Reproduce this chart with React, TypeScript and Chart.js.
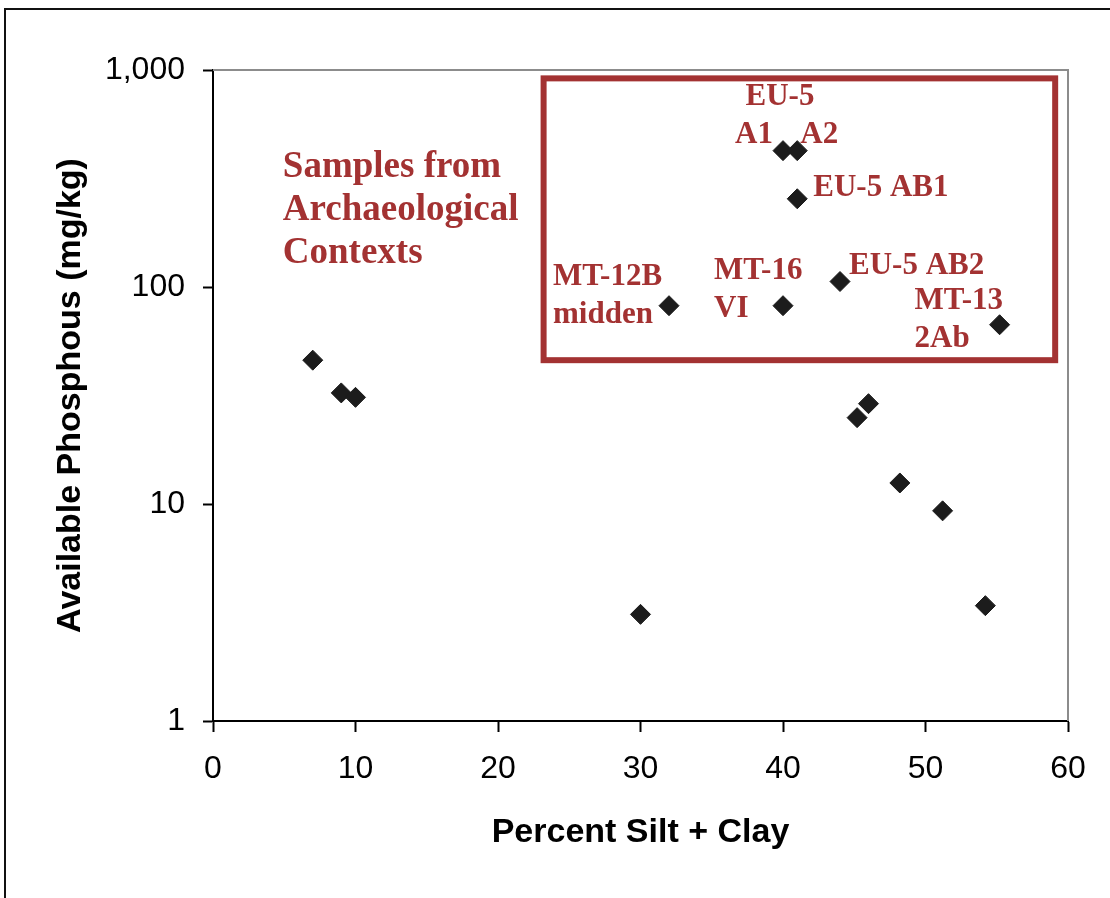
import React, { useEffect, useRef } from 'react';
import { Chart, registerables } from 'chart.js';

Chart.register(...registerables);

// ---- data ----
const siltClay = [7, 9, 10, 30, 32, 40, 41, 41, 40, 44, 55.2, 45.2, 46, 48.2, 51.2, 54.2];
const phosphorus = [46, 32.5, 31, 3.1, 82, 425, 425, 255, 82, 106, 67, 25, 29, 12.5, 9.3, 3.4];
const xTickValues = [0, 10, 20, 30, 40, 50, 60];
const yTickValues = [1, 10, 100, 1000];
const yTickLabels = ['1', '10', '100', '1,000'];
const xTitle = 'Percent Silt + Clay';
const yTitle = 'Available Phosphous (mg/kg)';
const contextText = ['Samples from', 'Archaeological', 'Contexts'];

// annotation placement (kept separate from the data)
const pointLabels = [
  { point: 5, lines: ['EU-5'], dx: -3, dy: -46, align: 'center' },
  { point: 5, lines: ['A1'], dx: -10, dy: -8, align: 'right' },
  { point: 6, lines: ['A2'], dx: 3, dy: -8, align: 'left' },
  { point: 7, lines: ['EU-5 AB1'], dx: 16, dy: -3, align: 'left' },
  { point: 4, lines: ['MT-12B', 'midden'], dx: -116, dy: -21, align: 'left' },
  { point: 8, lines: ['MT-16', 'VI'], dx: -69, dy: -27, align: 'left' },
  { point: 9, lines: ['EU-5 AB2'], dx: 9, dy: -8, align: 'left' },
  { point: 10, lines: ['MT-13', '2Ab'], dx: -85, dy: -16, align: 'left' },
];
const boxRange = { x0: 23.2, x1: 59.1, y0: 46, y1: 915 };
const contextAnchor = { x: 4.9, y: 321 };

const RED = '#a33232';
const TICK_FONT = "'Liberation Sans', Arial, sans-serif";

const annotationPlugin = {
  id: 'annotations',
  beforeDraw(chart: any) {
    const ctx = chart.ctx;
    ctx.save();
    ctx.fillStyle = '#ffffff';
    ctx.fillRect(0, 0, chart.width, chart.height);
    ctx.restore();
  },
  beforeDatasetsDraw(chart: any) {
    const { ctx, chartArea, scales } = chart;
    const xs = scales.x;
    const ys = scales.y;
    ctx.save();
    // plot-area border (top and right, grey)
    ctx.strokeStyle = '#8c8c8c';
    ctx.lineWidth = 2;
    ctx.beginPath();
    ctx.moveTo(chartArea.left, chartArea.top);
    ctx.lineTo(chartArea.right, chartArea.top);
    ctx.lineTo(chartArea.right, chartArea.bottom);
    ctx.stroke();
    // red box
    const bx0 = xs.getPixelForValue(boxRange.x0);
    const bx1 = xs.getPixelForValue(boxRange.x1);
    const by0 = ys.getPixelForValue(boxRange.y1);
    const by1 = ys.getPixelForValue(boxRange.y0);
    ctx.strokeStyle = RED;
    ctx.lineWidth = 6;
    ctx.strokeRect(bx0, by0, bx1 - bx0, by1 - by0);
    ctx.restore();
  },
  afterDatasetsDraw(chart: any) {
    const { ctx, scales } = chart;
    const xs = scales.x;
    const ys = scales.y;
    ctx.save();
    ctx.fillStyle = RED;
    ctx.textBaseline = 'alphabetic';
    ctx.font = "bold 31px 'Liberation Serif', 'Times New Roman', serif";
    for (const lab of pointLabels) {
      const px = xs.getPixelForValue(siltClay[lab.point]);
      const py = ys.getPixelForValue(phosphorus[lab.point]);
      ctx.textAlign = lab.align;
      lab.lines.forEach((t, i) => {
        ctx.fillText(t, px + lab.dx, py + lab.dy + i * 38);
      });
    }
    ctx.font = "bold 37px 'Liberation Serif', 'Times New Roman', serif";
    ctx.textAlign = 'left';
    const cx = xs.getPixelForValue(contextAnchor.x);
    const cy = ys.getPixelForValue(contextAnchor.y);
    contextText.forEach((t, i) => ctx.fillText(t, cx, cy + i * 43));
    ctx.restore();
  },
  afterDraw(chart: any) {
    const ctx = chart.ctx;
    ctx.save();
    ctx.strokeStyle = '#111111';
    ctx.lineWidth = 2;
    ctx.beginPath();
    ctx.moveTo(5, chart.height);
    ctx.lineTo(5, 9);
    ctx.lineTo(chart.width, 9);
    ctx.stroke();
    ctx.restore();
  },
};

export default function App() {
  const canvasRef = useRef<HTMLCanvasElement | null>(null);

  useEffect(() => {
    if (!canvasRef.current) return;
    const chart = new Chart(canvasRef.current, {
      type: 'scatter',
      data: {
        datasets: [
          {
            label: 'Samples',
            data: siltClay.map((x, i) => ({ x, y: phosphorus[i] })),
            pointStyle: 'rectRot',
            pointRadius: 10,
            pointBackgroundColor: '#1c1c1c',
            pointBorderColor: '#1c1c1c',
            pointBorderWidth: 1,
            showLine: false,
          },
        ],
      },
      options: {
        animation: false,
        responsive: false,
        devicePixelRatio: 1,
        layout: { padding: { left: 0, top: 70, right: 42, bottom: 0 } },
        plugins: {
          legend: { display: false },
          tooltip: { enabled: false },
        },
        scales: {
          x: {
            type: 'linear',
            min: 0,
            max: 60,
            afterBuildTicks: (scale: any) => {
              scale.ticks = xTickValues.map((v) => ({ value: v }));
            },
            afterFit: (scale: any) => {
              scale.height = 177;
            },
            ticks: {
              color: '#000',
              padding: 18,
              maxRotation: 0,
              font: { family: TICK_FONT, size: 32 },
              callback: (v: any) => String(v),
            },
            grid: {
              drawOnChartArea: false,
              drawTicks: true,
              tickLength: 11,
              tickWidth: 2,
              color: '#000',
            },
            border: { display: true, color: '#000', width: 2 },
            title: {
              display: true,
              text: xTitle,
              color: '#000',
              font: { family: "'Liberation Sans', Arial, sans-serif", size: 34, weight: 'bold' },
              padding: { top: 0, bottom: 45 },
            },
          },
          y: {
            type: 'logarithmic',
            min: 1,
            max: 1000,
            afterBuildTicks: (scale: any) => {
              scale.ticks = yTickValues.map((v) => ({ value: v }));
            },
            afterFit: (scale: any) => {
              scale.width = 213;
            },
            ticks: {
              color: '#000',
              padding: 18,
              font: { family: TICK_FONT, size: 32 },
              callback: (v: any) => {
                const idx = yTickValues.indexOf(Number(v));
                return idx >= 0 ? yTickLabels[idx] : '';
              },
            },
            grid: {
              drawOnChartArea: false,
              drawTicks: true,
              tickLength: 10,
              tickWidth: 2,
              color: '#000',
            },
            border: { display: true, color: '#000', width: 2 },
            title: {
              display: true,
              text: yTitle,
              color: '#000',
              font: { family: "'Liberation Sans', Arial, sans-serif", size: 34, weight: 'bold' },
              padding: { top: 50, bottom: 0 },
            },
          },
        },
      },
      plugins: [annotationPlugin],
    } as any);
    return () => chart.destroy();
  }, []);

  return (
    <div style={{ position: 'absolute', left: 0, top: 0, width: 1110, height: 898, background: '#fff' }}>
      <canvas ref={canvasRef} width={1110} height={898} style={{ display: 'block' }} />
    </div>
  );
}
